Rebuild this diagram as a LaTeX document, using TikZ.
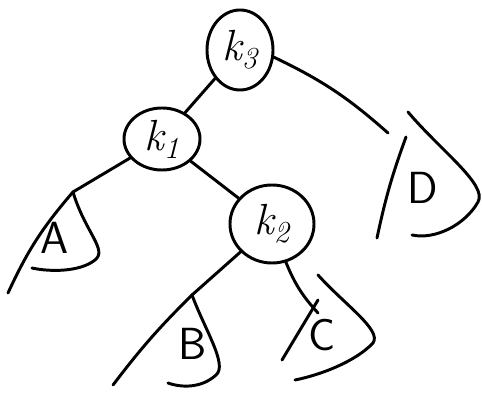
\documentclass[tikz,border=0pt]{standalone}
\usetikzlibrary{shapes.geometric}
\begin{document}
\begin{tikzpicture}[x=0.025cm, y=-0.025cm, line width=2.1pt, line cap=round,
    keynode/.style={draw, ellipse, inner sep=0pt, font=\fontsize{31}{35}\selectfont\itshape},
    treelabel/.style={font=\fontsize{32}{36}\selectfont\sffamily}]
  \useasboundingbox (0,0) rectangle (482,393);

  %% Keys
  \node[keynode, minimum width=1.65cm, minimum height=2.0cm] (k3) at (240,50) {k\textsubscript{3}};
  \node[keynode, minimum width=1.9cm, minimum height=1.55cm] (k1) at (162,139) {k\textsubscript{1}};
  \node[keynode, minimum width=2.1cm, minimum height=1.95cm] (k2) at (272,224) {k\textsubscript{2}};

  %% Subtree tops
  \coordinate (Atop) at (73,192);
  \coordinate (Btop) at (192,295);
  \coordinate (Ctop) at (318,275);
  \coordinate (Cjoin) at (318,313);
  \coordinate (Dtop) at (408,112);
  \coordinate (Dend) at (388,133);

  %% Edges
  \draw (k3) -- (k1);
  \draw (k3.-12) to[bend left=8] (Dend);
  \draw (k1) -- (Atop);
  \draw (k1) -- (k2);
  \draw (k2) -- (Btop);
  \draw (k2.-70) to[bend right=10] (Cjoin);

  %% Subtree A
  \draw (Atop) to[bend right=8] (8,293);
  \draw (Atop) .. controls (85,232) and (108,250) .. (95,260) .. controls (80,272) and (50,272) .. (32,268);
  \node[treelabel] (labA) at (55,238) {A};

  %% Subtree B
  \draw (Btop) to[bend right=4] (113,385);
  \draw (Btop) .. controls (205,330) and (228,365) .. (216,375) .. controls (202,388) and (182,388) .. (168,383);
  \node[treelabel] (labB) at (193,344) {B};

  %% Subtree C
  \draw (318,300) -- (282,360);
  \draw (Ctop) .. controls (345,305) and (382,330) .. (373,343) .. controls (355,362) and (320,375) .. (295,380);
  \node[treelabel] (labC) at (322,335) {C};

  %% Subtree D
  \draw (406,137) to[bend right=4] (377,238);
  \draw (Dtop) .. controls (440,150) and (488,185) .. (478,202) .. controls (465,225) and (435,240) .. (412,235);
  \node[treelabel] (labD) at (423,188) {D};
\end{tikzpicture}
\end{document}
